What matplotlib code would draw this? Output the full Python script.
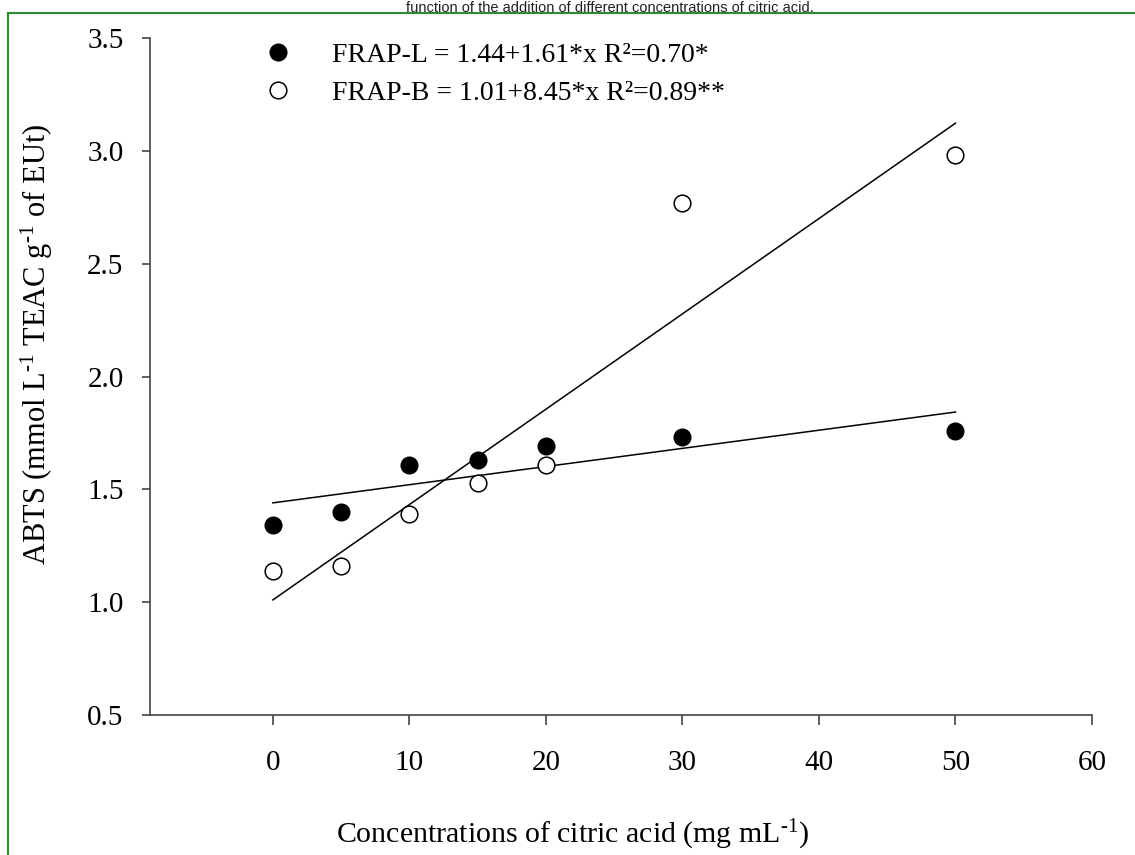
import numpy as np
import matplotlib.pyplot as plt
from matplotlib.lines import Line2D

plt.rcParams['font.family'] = ['Liberation Serif', 'DejaVu Serif']
plt.rcParams['mathtext.fontset'] = 'custom'
plt.rcParams['mathtext.rm'] = 'Liberation Serif'
plt.rcParams['mathtext.it'] = 'Liberation Serif:italic'

# data
conc = [0, 5, 10, 15, 20, 30, 50]
frap_l = [1.34, 1.40, 1.61, 1.63, 1.69, 1.73, 1.76]
frap_b = [1.14, 1.16, 1.39, 1.53, 1.61, 2.77, 2.98]

# fitted lines (coefficients as printed, x scaled by 1/200)
fit_l = (1.44, 1.61)
fit_b = (1.01, 8.45)
fit_x = np.array([0, 50])

label_l = 'FRAP-L = 1.44+1.61*x R²=0.70*'
label_b = 'FRAP-B = 1.01+8.45*x R²=0.89**'

W, H = 1135, 855
fig = plt.figure(figsize=(W / 100, H / 100), dpi=100)
ax = fig.add_axes([150 / W, 1 - 715 / H, 942 / W, 677 / H])

hl, = ax.plot(conc, frap_l, 'o', color='black', markersize=12, zorder=3)
hb, = ax.plot(conc, frap_b, 'o', markerfacecolor='white', markeredgecolor='black',
              markeredgewidth=1.1, markersize=12, zorder=3)
ax.plot(fit_x, fit_l[0] + fit_l[1] / 200 * fit_x, color='black', lw=1.1)
ax.plot(fit_x, fit_b[0] + fit_b[1] / 200 * fit_x, color='black', lw=1.1)

ax.set_xlim(-9, 60)
ax.set_ylim(0.5, 3.5)
ax.set_xticks([0, 10, 20, 30, 40, 50, 60])
ax.set_yticks([0.5, 1.0, 1.5, 2.0, 2.5, 3.0, 3.5])
ax.yaxis.set_major_formatter(plt.FormatStrFormatter('%.1f'))

for s in ['top', 'right']:
    ax.spines[s].set_visible(False)
for s in ['left', 'bottom']:
    ax.spines[s].set_color('#444444')
    ax.spines[s].set_linewidth(1.2)
ax.tick_params(axis='x', direction='out', length=7, width=1.2, color='#444444',
               labelsize=21, pad=18)
ax.tick_params(axis='y', direction='out', length=6, width=1.2, color='#444444',
               labelsize=21, pad=13)

ax.set_xlabel(r'Concentrations of citric acid (mg mL$^{\text{-1}}$)', fontsize=21.5)
ax.xaxis.label.set_va('center')
ax.xaxis.set_label_coords(0.448, -0.177)
ax.set_ylabel(r'ABTS (mmol L$^{\text{-1}}$ TEAC g$^{\text{-1}}$ of EUt)', fontsize=22)
ax.yaxis.set_label_coords(-0.101, 0.547)

ax.legend([hl, hb], [label_l, label_b], loc='upper left',
          bbox_to_anchor=(0.121, 0.993), frameon=False, fontsize=20,
          handlelength=1.0, handletextpad=1.45, labelspacing=0.45,
          borderpad=0, borderaxespad=0)

# caption of the source page and its green frame
fig.text(610 / W, 1 - 1 / H, 'function of the addition of different concentrations of citric acid.',
         family='Liberation Sans', fontsize=10.5, color='#222222', ha='center', va='top')
fig.add_artist(Line2D([8 / W, 1], [1 - 13 / H, 1 - 13 / H], color='#2e8b2e', lw=1.5))
fig.add_artist(Line2D([8 / W, 8 / W], [0, 1 - 13 / H], color='#2e8b2e', lw=1.5))

fig.savefig('out.png', dpi=100)
